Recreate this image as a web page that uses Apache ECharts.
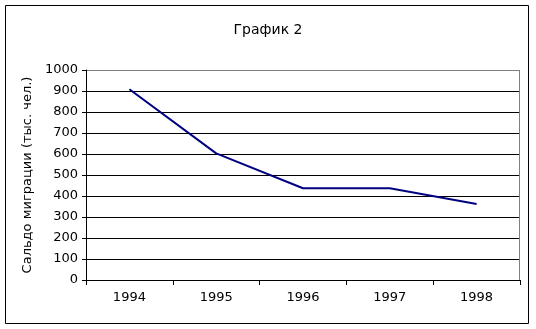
<!DOCTYPE html>
<html><head><meta charset="utf-8">
<script src="https://cdn.jsdelivr.net/npm/echarts@6/dist/echarts.min.js"></script>
<style>html,body{margin:0;padding:0;background:#fff}#c{width:536px;height:329px}</style>
</head><body><div id="c"></div>
<script>
const categories = ['1994','1995','1996','1997','1998'];
const values = [908, 603, 437, 437, 362];
const yTicks = {min: 0, max: 1000, interval: 100};
const titleText = 'График 2';
const yName = 'Сальдо миграции (тыс. чел.)';

const font = 'DejaVu Sans';
const gridColors = [];
for (let v = yTicks.min; v <= yTicks.max; v += yTicks.interval) gridColors.push(v === yTicks.max ? '#808080' : '#000');
const chart = echarts.init(document.getElementById('c'), null, {renderer: 'canvas'});
chart.setOption({
  animation: false,
  backgroundColor: '#fff',
  title: {text: titleText, left: 'center', top: 18, textStyle: {fontFamily: font, fontSize: 14, fontWeight: 'normal', color: '#000'}},
  graphic: [
    {type: 'rect', shape: {x: 5.5, y: 5.5, width: 523, height: 318}, style: {fill: 'none', stroke: '#000', lineWidth: 1}, silent: true},
    {type: 'line', shape: {x1: 519.5, y1: 70, x2: 519.5, y2: 280}, style: {stroke: '#808080', lineWidth: 1}, silent: true, z: 1}
  ],
  grid: {left: 86, right: 16, top: 70, bottom: 49},
  xAxis: {
    type: 'category', data: categories, boundaryGap: true,
    axisLine: {lineStyle: {color: '#000', width: 1}},
    axisTick: {show: true, length: 5, inside: false, lineStyle: {color: '#000'}},
    axisLabel: {fontFamily: font, fontSize: 13, color: '#000', margin: 11},
    splitLine: {show: false}
  },
  yAxis: {
    type: 'value', min: yTicks.min, max: yTicks.max, interval: yTicks.interval,
    name: yName, nameLocation: 'middle', nameGap: 49, nameRotate: 90,
    nameTextStyle: {fontFamily: font, fontSize: 13, color: '#000'},
    axisLine: {show: true, lineStyle: {color: '#000', width: 1}},
    axisTick: {show: true, length: 4, lineStyle: {color: '#000'}},
    axisLabel: {fontFamily: font, fontSize: 13, color: '#000', margin: 8, formatter: v => String(v)},
    splitLine: {show: true, lineStyle: {color: gridColors, width: 1}}
  },
  series: [{
    type: 'line', data: values, symbol: 'none',
    lineStyle: {color: '#000080', width: 2}, z: 5
  }]
});
</script></body></html>
